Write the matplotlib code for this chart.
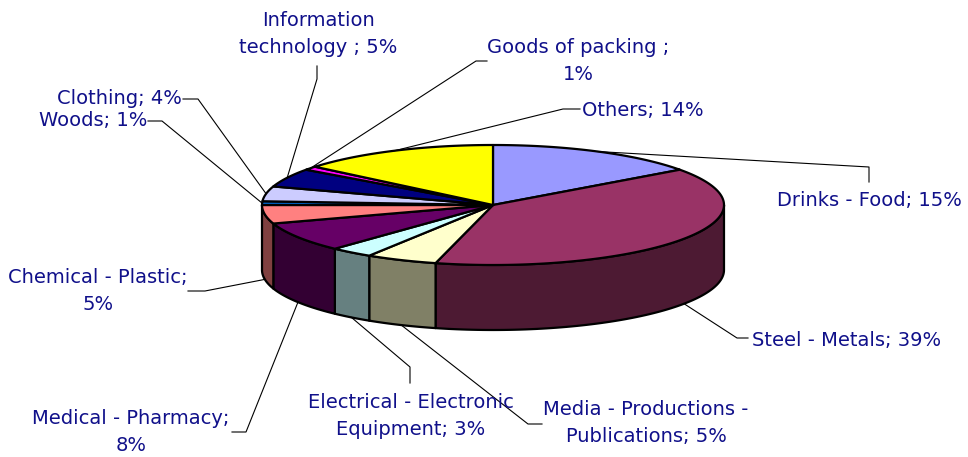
import numpy as np
import matplotlib
matplotlib.use("Agg")
import matplotlib.pyplot as plt
from matplotlib.patches import Polygon
import matplotlib.colors as mcolors

# ---- data ----
categories = ["Drinks - Food", "Steel - Metals", "Media - Productions - Publications",
              "Electrical - Electronic Equipment", "Medical - Pharmacy", "Chemical - Plastic",
              "Woods", "Clothing", "Information technology", "Goods of packing", "Others"]
values = [15, 39, 5, 3, 8, 5, 1, 4, 5, 1, 14]
label_texts = ["Drinks - Food; 15%", "Steel - Metals; 39%", "Media - Productions -\nPublications; 5%",
               "Electrical - Electronic\nEquipment; 3%", "Medical - Pharmacy;\n8%",
               "Chemical - Plastic;\n5%", "Woods; 1%", "Clothing; 4%",
               "Information\ntechnology ; 5%", "Goods of packing ;\n1%", "Others; 14%"]
colors = ["#9999FF", "#993366", "#FFFFCC", "#CCFFFF", "#660066", "#FF8080",
          "#0066CC", "#CCCCFF", "#000080", "#FF00FF", "#FFFF00"]

# ---- layout (pixel space) ----
W, H = 968, 457
cx, cy, a, b, depth = 493, 205, 231, 60, 65
# label position: (x, y, ha) and leader elbow points
label_pos = [(777, 200, "left"), (752, 341, "left"), (646, 423, "center"),
             (411, 416, "center"), (131, 432, "center"), (98, 291, "center"),
             (147, 121, "right"), (182, 99, "right"), (318, 34, "center"),
             (578, 61, "center"), (582, 110, "left")]
elbows = [[(869, 182), (869, 167)], [(748, 338), (737, 338)], [(542, 424), (528, 424)],
          [(410, 383), (410, 367)], [(232, 432), (246, 432)], [(188, 291), (205, 291)],
          [(148, 121), (162, 121)], [(183, 99), (198, 99)], [(317, 66), (317, 79)],
          [(487, 61), (476, 61)], [(580, 109), (563, 109)]]

fig = plt.figure(figsize=(W / 100, H / 100), dpi=100)
ax = fig.add_axes([0, 0, 1, 1])
ax.set_xlim(0, W)
ax.set_ylim(H, 0)
ax.axis("off")

def pt(theta_deg):
    t = np.radians(theta_deg)
    return cx + a * np.sin(t), cy - b * np.cos(t)

total = sum(values)
bounds = np.concatenate([[0], np.cumsum(values)]) / total * 360.0

# walls (front half only)
for i in range(len(values)):
    t1, t2 = bounds[i], bounds[i + 1]
    s, e = max(t1, 90), min(t2, 270)
    if e <= s:
        continue
    ts = np.linspace(s, e, 80)
    xs, ys = pt(ts)
    top = np.column_stack([xs, ys])
    bot = np.column_stack([xs, ys + depth])[::-1]
    rgb = np.array(mcolors.to_rgb(colors[i])) * 0.5
    ax.add_patch(Polygon(np.vstack([top, bot]), closed=True, facecolor=rgb,
                         edgecolor="black", linewidth=1.6, joinstyle="round"))

# tops
for i in range(len(values)):
    t1, t2 = bounds[i], bounds[i + 1]
    ts = np.linspace(t1, t2, max(4, int((t2 - t1) * 2)))
    xs, ys = pt(ts)
    poly = np.vstack([[cx, cy], np.column_stack([xs, ys])])
    ax.add_patch(Polygon(poly, closed=True, facecolor=colors[i],
                         edgecolor="black", linewidth=1.6, joinstyle="round"))

# labels and leader lines
for i in range(len(values)):
    mid = (bounds[i] + bounds[i + 1]) / 2
    axp, ayp = pt(mid)
    if 90 < mid < 270:
        ayp += depth
    path = elbows[i] + [(axp, ayp)]
    px, py = zip(*path)
    ax.plot(px, py, color="black", linewidth=0.8, zorder=5)
    x, y, ha = label_pos[i]
    ax.text(x, y, label_texts[i], ha=ha, va="center", multialignment="center",
            linespacing=1.47, fontsize=14, color="#10108A", family="DejaVu Sans", zorder=6)

fig.savefig("out.png", dpi=100)
